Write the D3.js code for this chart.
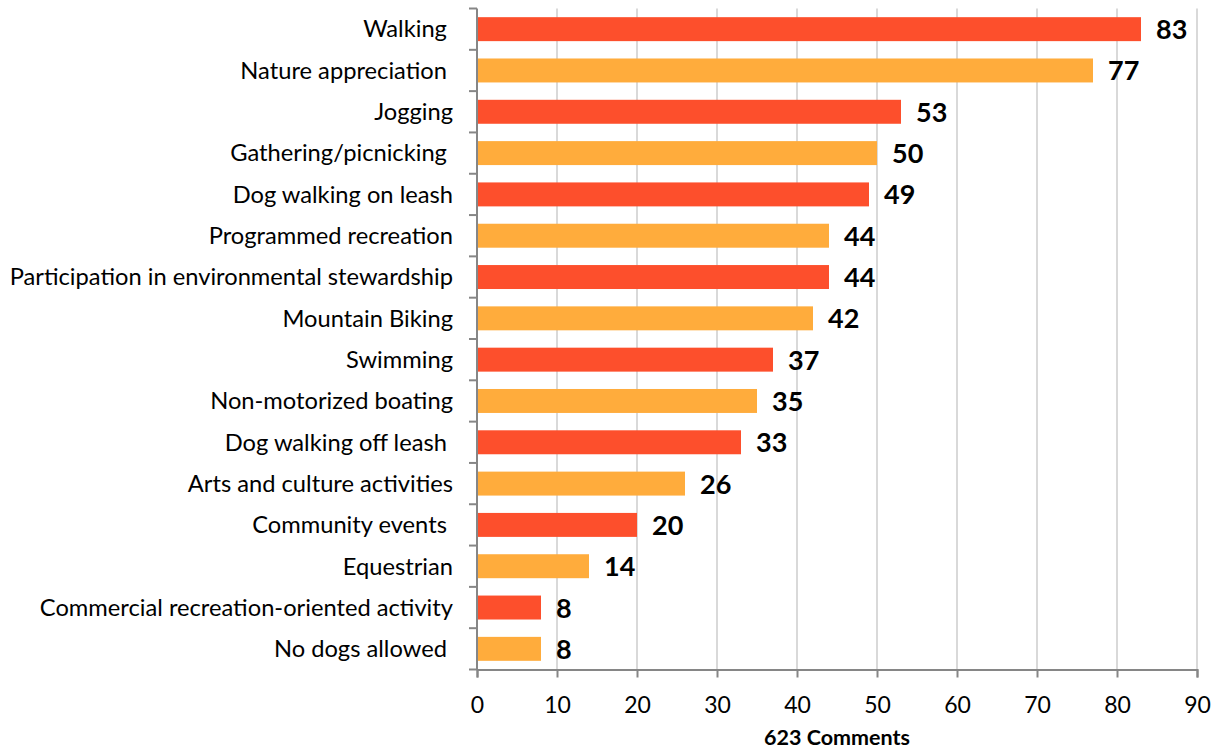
<!DOCTYPE html>
<html>
<head>
<meta charset="utf-8">
<script src="https://cdn.jsdelivr.net/npm/d3@7"></script>
<style>
  body { margin: 0; background: #fff; }
  text { font-family: Lato, "Open Sans", sans-serif; fill: #000; }
</style>
</head>
<body>
<div id="chart"></div>
<script>
// data (top to bottom)
var categories = [
  "Walking ", "Nature appreciation ", "Jogging", "Gathering/picnicking ",
  "Dog walking on leash", "Programmed recreation",
  "Participation in environmental stewardship", "Mountain Biking",
  "Swimming", "Non-motorized boating", "Dog walking off leash ",
  "Arts and culture activities", "Community events ", "Equestrian",
  "Commercial recreation-oriented activity", "No dogs allowed "
];
var values = [83, 77, 53, 50, 49, 44, 44, 42, 37, 35, 33, 26, 20, 14, 8, 8];
var xTicks = [0, 10, 20, 30, 40, 50, 60, 70, 80, 90];
var axisTitle = "623 Comments";
var colors = ["#FD4F2C", "#FFAC3C"];

var svgWidth = 1223;
var svgHeight = 750;
var margin = { top: 8.5, right: 26, bottom: 80.5, left: 477 };
var width = svgWidth - margin.left - margin.right;
var height = svgHeight - margin.top - margin.bottom;

var svg = d3.select("#chart")
  .append("svg")
  .attr("width", svgWidth)
  .attr("height", svgHeight);

var g = svg.append("g")
  .attr("transform", `translate(${margin.left}, ${margin.top})`);

var xScale = d3.scaleLinear()
  .domain([0, 90])
  .range([0, width]);

var yScale = d3.scaleBand()
  .domain(categories)
  .range([0, height])
  .paddingInner(0.42)
  .paddingOuter(0.21);

// gridlines
g.selectAll(".grid")
  .data(xTicks.slice(1))
  .enter()
  .append("line")
  .attr("x1", d => xScale(d))
  .attr("x2", d => xScale(d))
  .attr("y1", 0)
  .attr("y2", height)
  .attr("stroke", "#d9d9d9")
  .attr("stroke-width", 2);

// bars
g.selectAll("rect")
  .data(values)
  .enter()
  .append("rect")
  .attr("x", 0)
  .attr("y", (d, i) => yScale(categories[i]))
  .attr("height", yScale.bandwidth())
  .attr("width", d => xScale(d))
  .attr("fill", (d, i) => colors[i % 2]);

// value labels
g.selectAll(".val")
  .data(values)
  .enter()
  .append("text")
  .attr("class", "val")
  .attr("x", d => xScale(d) + 15)
  .attr("y", (d, i) => yScale(categories[i]) + yScale.bandwidth() / 2)
  .attr("dy", "0.37em")
  .style("font-size", "27px")
  .style("font-weight", "bold")
  .text(d => d);

// y axis: line plus ticks at band boundaries, labels drawn separately
var bandEdges = d3.range(categories.length + 1).map(i => i * height / categories.length);
g.append("line")
  .attr("x1", 0).attr("x2", 0)
  .attr("y1", 0).attr("y2", height)
  .attr("stroke", "#868686")
  .attr("stroke-width", 2);
g.selectAll(".ytick")
  .data(bandEdges)
  .enter()
  .append("line")
  .attr("x1", -8).attr("x2", 0)
  .attr("y1", d => d).attr("y2", d => d)
  .attr("stroke", "#868686")
  .attr("stroke-width", 2);

g.selectAll(".cat")
  .data(categories)
  .enter()
  .append("text")
  .attr("class", "cat")
  .attr("x", -24)
  .attr("y", d => yScale(d) + yScale.bandwidth() / 2)
  .attr("dy", "0.35em")
  .attr("text-anchor", "end")
  .style("font-size", "23.7px")
  .style("white-space", "pre")
  .text(d => d);

// x axis
var bottomAxis = d3.axisBottom(xScale)
  .tickValues(xTicks)
  .tickSize(8)
  .tickPadding(19);

var xAxis = g.append("g")
  .attr("transform", `translate(0, ${height})`)
  .call(bottomAxis);
xAxis.select(".domain").attr("stroke", "#868686").attr("stroke-width", 2);
xAxis.selectAll(".tick line").attr("stroke", "#868686").attr("stroke-width", 2);
xAxis.selectAll(".tick text")
  .style("font-size", "23px")
  .style("font-family", "Lato, sans-serif")
  .attr("fill", "#000");

g.append("text")
  .attr("x", width / 2)
  .attr("y", height + 75.5)
  .attr("text-anchor", "middle")
  .style("font-size", "21.5px")
  .style("font-weight", "bold")
  .text(axisTitle);
</script>
</body>
</html>
